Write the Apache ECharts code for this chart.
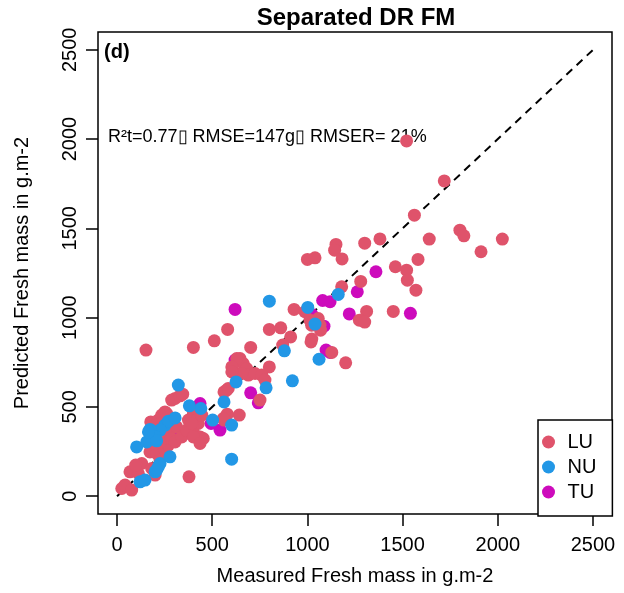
<!DOCTYPE html>
<html>
<head>
<meta charset="utf-8">
<script src="https://cdn.jsdelivr.net/npm/echarts@6/dist/echarts.min.js"></script>
<style>
  html, body { margin: 0; padding: 0; background: #fff; }
  #chart { width: 624px; height: 593px; }
</style>
</head>
<body>
<div id="chart"></div>
<script>
const tickValues = [0, 500, 1000, 1500, 2000, 2500]
const groups = ['LU', 'NU', 'TU']
const groupColors = ['#DF536B', '#2297E6', '#CD0BBC']
const oneToOne = [[0, 0], [2500, 2500]]

// [measured, predicted]
const luPoints = [
  [1521, 1990], [1719, 1766], [1562, 1574], [1801, 1490], [1822, 1458], [2024, 1440], [1640, 1440],
  [1381, 1441], [1301, 1417], [1150, 1410], [1143, 1378], [1182, 1329], [1912, 1369], [1581, 1326],
  [1462, 1285], [1521, 1266], [1525, 1210], [1570, 1154], [1280, 1203], [1180, 1173], [1311, 1035],
  [1273, 986], [1301, 975], [1451, 1035], [1128, 805], [1201, 747], [1000, 1326], [1040, 1335],
  [930, 1046], [987, 1033], [1057, 995], [1066, 958], [1069, 930], [1014, 986], [1022, 958],
  [1023, 880], [800, 934], [860, 943], [912, 892], [870, 846], [1019, 864], [702, 833], [800, 724],
  [646, 771], [663, 743], [681, 715], [646, 687], [690, 678], [725, 687], [760, 678], [777, 650],
  [751, 538], [401, 833], [511, 870], [581, 934], [152, 818], [629, 771], [603, 724], [620, 687],
  [655, 687], [603, 696], [576, 594], [562, 584], [584, 603], [579, 459], [562, 426], [642, 454],
  [558, 435], [305, 547], [287, 538], [331, 562], [345, 571], [401, 459], [375, 426], [418, 426],
  [401, 388], [177, 416], [217, 426], [270, 444], [252, 472], [235, 454], [270, 351], [313, 388],
  [410, 342], [383, 351], [436, 332], [453, 323], [378, 108], [25, 43], [42, 62], [77, 34],
  [68, 136], [112, 127], [130, 183], [98, 174], [182, 155], [200, 118], [173, 248], [208, 239],
  [226, 202], [252, 258], [270, 286], [200, 295], [226, 304], [217, 379], [235, 407], [208, 398],
  [261, 463], [287, 323], [305, 304], [340, 332], [366, 370], [401, 332], [427, 407], [392, 407],
  [445, 454], [436, 295]
]
const nuPoints = [
  [1162, 1130], [1002, 1057], [1040, 964], [800, 1092], [879, 814], [1061, 767], [921, 646],
  [783, 607], [625, 640], [562, 528], [602, 398], [602, 207], [322, 622], [440, 491], [380, 506],
  [502, 426], [252, 398], [270, 420], [305, 438], [226, 370], [173, 374], [200, 332], [121, 80],
  [147, 90], [200, 136], [217, 164], [226, 183], [278, 220], [103, 276], [156, 304], [208, 310],
  [165, 360], [208, 146]
]
const tuPoints = [
  [1360, 1257], [1262, 1145], [1119, 1089], [1220, 1021], [1541, 1024], [1080, 1096], [1023, 1018],
  [1087, 952], [1098, 818], [1119, 805], [702, 579], [742, 523], [620, 762], [541, 370], [436, 519],
  [494, 407], [322, 366], [313, 351], [331, 342], [620, 1046]
]

const font = 'Liberation Sans, Arial, Helvetica, sans-serif'
const chart = echarts.init(document.getElementById('chart'), null, { renderer: 'canvas' })

const axisCommon = {
  type: 'value',
  min: -100,
  max: 2600,
  splitLine: { show: false },
  axisLine: { show: false, onZero: false },
  axisTick: { show: true, inside: false, length: 12, customValues: tickValues, lineStyle: { color: '#000', width: 1.5 } },
  nameLocation: 'middle',
  nameTextStyle: { color: '#000', fontSize: 20, fontFamily: font }
}

const tickLabel = v => String(v)

chart.setOption({
  animation: false,
  backgroundColor: '#fff',
  title: {
    text: 'Separated DR FM',
    left: 356,
    top: 6,
    padding: 0,
    textAlign: 'center',
    textStyle: { fontSize: 24, fontWeight: 'bold', color: '#000', fontFamily: font }
  },
  grid: { left: 98, right: 12, top: 32, bottom: 79, show: true, borderColor: '#000', borderWidth: 1.5 },
  xAxis: Object.assign({}, axisCommon, {
    name: 'Measured Fresh mass in g.m-2',
    nameGap: 52,
    axisLabel: { customValues: tickValues, formatter: tickLabel, color: '#000', fontSize: 20, fontFamily: font, margin: 21 }
  }),
  yAxis: Object.assign({}, axisCommon, {
    name: 'Predicted Fresh mass in g.m-2',
    nameGap: 66,
    axisLabel: { customValues: tickValues, formatter: tickLabel, rotate: 90, color: '#000', fontSize: 20, fontFamily: font, margin: 18 }
  }),
  legend: {
    data: groups,
    orient: 'vertical',
    left: 538,
    top: 420,
    padding: [12, 16, 14, 4],
    itemWidth: 28,
    itemHeight: 13,
    itemGap: 5,
    icon: 'circle',
    borderColor: '#000',
    borderWidth: 1.5,
    backgroundColor: '#fff',
    textStyle: { fontSize: 20, color: '#000', fontFamily: font }
  },
  graphic: [
    { type: 'text', left: 104, top: 42, style: { text: '(d)', fontSize: 20, fontWeight: 'bold', fill: '#000', fontFamily: font } },
    { type: 'text', left: 108, top: 128, style: { text: 'R\u00b2t=0.77\u25af RMSE=147g\u25af RMSER= 21%', fontSize: 18, fill: '#000', fontFamily: font } }
  ],
  series: [
    {
      type: 'line',
      data: oneToOne,
      symbol: 'none',
      silent: true,
      lineStyle: { color: '#000', width: 2, type: [8, 6] },
      z: 1
    },
    { name: 'TU', type: 'scatter', data: tuPoints, symbolSize: 13, itemStyle: { color: groupColors[2], opacity: 1 }, z: 2 },
    { name: 'LU', type: 'scatter', data: luPoints, symbolSize: 13, itemStyle: { color: groupColors[0], opacity: 1 }, z: 3 },
    { name: 'NU', type: 'scatter', data: nuPoints, symbolSize: 13, itemStyle: { color: groupColors[1], opacity: 1 }, z: 4 }
  ]
})
</script>
</body>
</html>
